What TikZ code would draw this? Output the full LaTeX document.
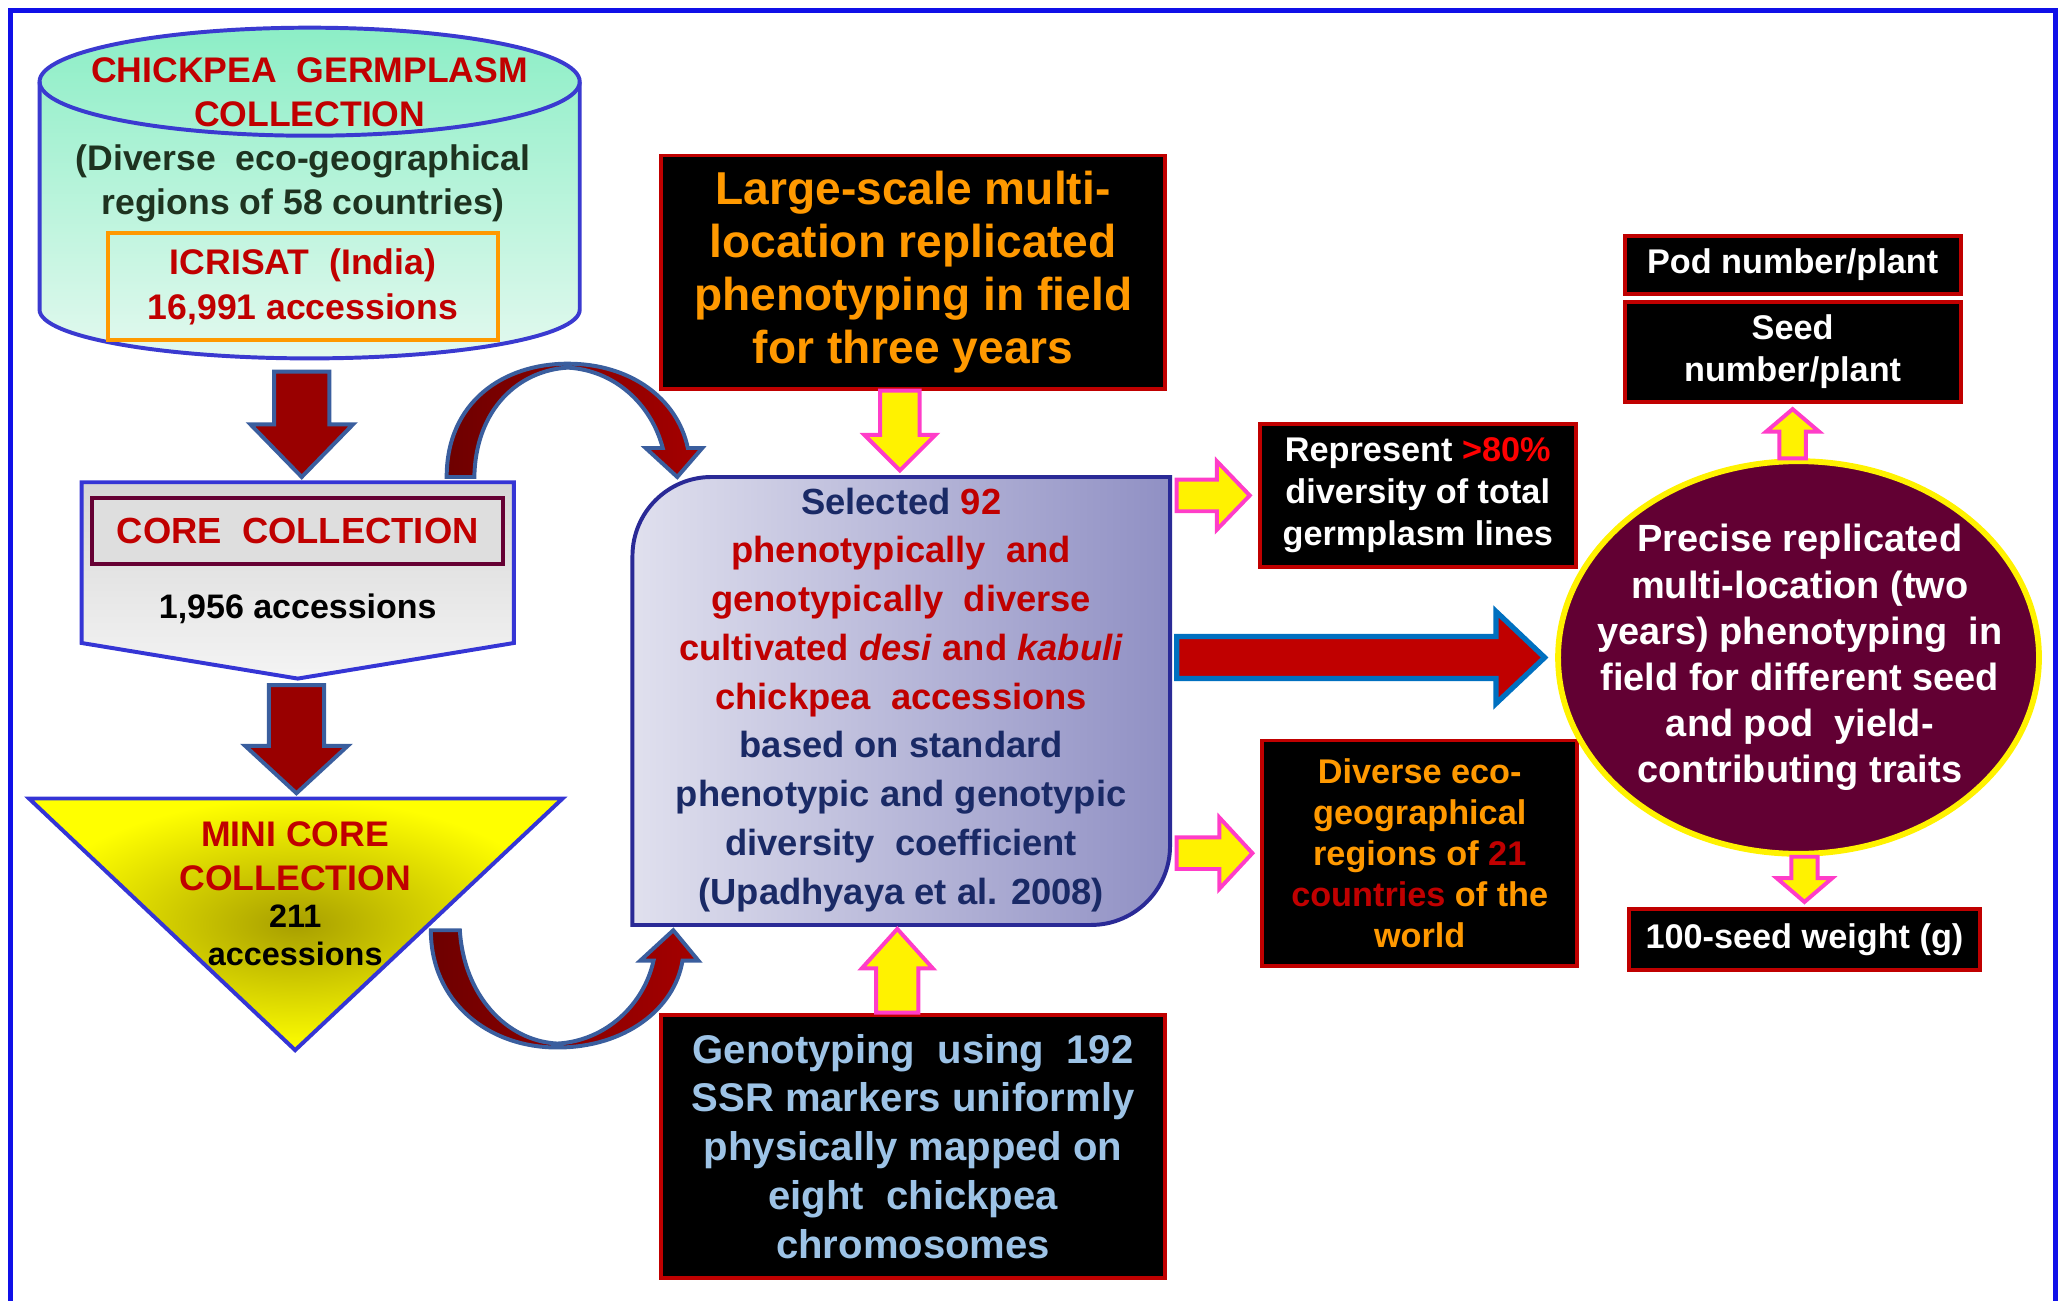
\documentclass[tikz,border=0pt]{standalone}
\usepackage{fontspec}
\setmainfont{Liberation Sans}
\usetikzlibrary{calc, shapes.geometric}

\definecolor{framecol}{HTML}{1010E8}
\definecolor{cylblue}{HTML}{3A3AD0}
\definecolor{cyltop}{HTML}{8CEEC6}
\definecolor{cylbot}{HTML}{E3F9EF}
\definecolor{textred}{HTML}{C00000}
\definecolor{greentext}{HTML}{1E3320}
\definecolor{icriorange}{HTML}{FF9900}
\definecolor{arrowred}{HTML}{990000}
\definecolor{arrowedge}{HTML}{3A5E9E}
\definecolor{curvedark}{HTML}{6E0000}
\definecolor{curvelight}{HTML}{A50000}
\definecolor{coregrayA}{HTML}{D6D6D6}
\definecolor{coregrayB}{HTML}{F4F4F4}
\definecolor{coreblue}{HTML}{3535D5}
\definecolor{coremaroon}{HTML}{660033}
\definecolor{coreinner}{HTML}{DEDEDE}
\definecolor{minicenter}{HTML}{A89F00}
\definecolor{selleft}{HTML}{E0E0EE}
\definecolor{selright}{HTML}{9090C4}
\definecolor{selblue}{HTML}{2A2A96}
\definecolor{navytext}{HTML}{1A2A66}
\definecolor{arrowpink}{HTML}{FF3DC8}
\definecolor{boxred}{HTML}{C00000}
\definecolor{lightbluetext}{HTML}{9DC3E6}
\definecolor{bigedge}{HTML}{0070C0}
\definecolor{precfill}{HTML}{620033}
\definecolor{brightred}{HTML}{FF0000}

\newcommand{\setfs}[2]{\fontsize{#1}{#2}\selectfont\bfseries}

% block arrows: [style]{start}{tip}{half shaft}{half head}{head length}
\newcommand{\fatdown}[6][]{%
  \draw[#1] ($(#2 -| #3)+(-#4,0)$) -- ($(#3)+(-#4,-#6)$) -- ($(#3)+(-#5,-#6)$)
    -- (#3) -- ($(#3)+(#5,-#6)$) -- ($(#3)+(#4,-#6)$) -- ($(#2 -| #3)+(#4,0)$) -- cycle;}
\newcommand{\fatup}[6][]{%
  \draw[#1] ($(#2 -| #3)+(-#4,0)$) -- ($(#3)+(-#4,#6)$) -- ($(#3)+(-#5,#6)$)
    -- (#3) -- ($(#3)+(#5,#6)$) -- ($(#3)+(#4,#6)$) -- ($(#2 -| #3)+(#4,0)$) -- cycle;}
\newcommand{\fatright}[6][]{%
  \draw[#1] ($(#2 |- #3)+(0,-#4)$) -- ($(#3)+(-#6,-#4)$) -- ($(#3)+(-#6,-#5)$)
    -- (#3) -- ($(#3)+(-#6,#5)$) -- ($(#3)+(-#6,#4)$) -- ($(#2 |- #3)+(0,#4)$) -- cycle;}

\tikzset{
  darkbox/.style={draw=boxred, fill=black, line width=1.5pt, inner sep=0pt, align=center},
  yellowarrow/.style={fill=yellow, draw=arrowpink, line width=1.5pt},
  redarrow/.style={fill=arrowred, draw=arrowedge, line width=1.5pt},
  curvearrow/.style={left color=curvedark, right color=curvelight, draw=arrowedge, line width=1.5pt},
}

\begin{document}
\begin{tikzpicture}[x=0.5pt, y=-0.5pt]
  \useasboundingbox (0,0) rectangle (1568,987);
  \draw[framecol, line width=1.8pt] (8,8) rectangle (1560,1000);

  % germplasm cylinder
  \shadedraw[top color=cyltop, bottom color=cylbot, draw=cylblue, line width=1.5pt]
    (30,62) -- (30,235) arc[start angle=180, end angle=0, x radius=205, y radius=37]
    -- (440,62) arc[start angle=0, end angle=-180, x radius=205, y radius=41] -- cycle;
  \draw[cylblue, line width=1.5pt] (30,62) arc[start angle=180, end angle=0, x radius=205, y radius=41];
  \node[align=center, text=textred, font=\setfs{13.5}{16.75}] (germ) at (235,70) {CHICKPEA\ \ GERMPLASM\\COLLECTION};
  \node[align=center, text=greentext, font=\setfs{13.5}{16.75}] (regions) at (230,139) {(Diverse\ \ eco-geographical\\regions of 58 countries)};
  \node[draw=icriorange, line width=1.5pt, minimum width=148pt, minimum height=40.5pt, inner sep=0pt,
        align=center, text=textred, font=\setfs{13.5}{17}] (icri) at (230,217.5) {ICRISAT\ \ (India)\\16,991 accessions};

  % core collection
  \shadedraw[top color=coregrayA, bottom color=coregrayB, draw=coreblue, line width=1.5pt]
    (62,366) -- (390,366) -- (390,488) -- (226,515) -- (62,488) -- cycle;
  \node[draw=coremaroon, fill=coreinner, line width=1.5pt, minimum width=156pt, minimum height=25pt, inner sep=0pt,
        text=textred, font=\setfs{13.8}{16}] (corebox) at (226,403) {CORE\ \ COLLECTION};
  \node[font=\setfs{12.9}{15}] (core) at (226,462) {1,956 accessions};

  % mini core collection
  \shadedraw[inner color=minicenter, outer color=yellow, draw=coreblue, line width=1.5pt]
    (22,606) -- (427,606) -- (224,797) -- cycle;
  \node[align=center, text=textred, font=\setfs{13.5}{16.5}] (mini) at (224,650) {MINI CORE\\COLLECTION};
  \node[align=center, font=\setfs{12.3}{14.5}] (mininum) at (224,710) {211\\accessions};

  % curved arrows
  \shadedraw[curvearrow] (339,362) .. controls (339,305) and (382,276) .. (431,276)
    .. controls (478,276) and (514,302) .. (522,340) -- (533,340) -- (514,362) -- (490,340) -- (503,340)
    .. controls (494,306) and (466,281) .. (431,279) .. controls (394,281) and (361,310) .. (360,362) -- cycle;
  \shadedraw[curvearrow] (327,706) .. controls (327,760) and (370,795) .. (423,795)
    .. controls (474,795) and (512,766) .. (518,729) -- (530,729) -- (511,706) -- (486,729) -- (496,729)
    .. controls (489,762) and (460,790) .. (423,792) .. controls (384,790) and (352,755) .. (349,706) -- cycle;

  % selected accessions
  \shadedraw[left color=selleft, right color=selright, draw=selblue, line width=1.5pt]
    (540,362) -- (888,362) -- (888,642) arc[start angle=0, end angle=90, radius=60]
    -- (480,702) -- (480,422) arc[start angle=180, end angle=270, radius=60] -- cycle;
  \node[align=center, text=navytext, font=\setfs{13.8}{18.5}] (sel) at (684,531)
    {Selected \textcolor{textred}{92}\\
     \textcolor{textred}{phenotypically\ \ and}\\
     \textcolor{textred}{genotypically\ \ diverse}\\
     \textcolor{textred}{cultivated \textit{desi} and \textit{kabuli}}\\
     \textcolor{textred}{chickpea\ \ accessions}\\
     based on standard\\
     phenotypic and genotypic\\
     diversity\ \ coefficient\\
     (Upadhyaya et al. 2008)};

  % black boxes
  \node[darkbox, minimum width=191pt, minimum height=88.5pt, text=icriorange, font=\setfs{17.5}{20}] (phen) at (693,206.5)
    {Large-scale multi-\\location replicated\\phenotyping in field\\for three years};
  \node[darkbox, minimum width=191pt, minimum height=100pt, text=lightbluetext, font=\setfs{15.2}{18.5}] (geno) at (693,870)
    {Genotyping\ \ using\ \ 192\\SSR markers uniformly\\physically mapped on\\eight\ \ chickpea\\chromosomes};
  \node[darkbox, minimum width=120pt, minimum height=54pt, text=white, font=\setfs{13}{16}] (rep) at (1076,376)
    {Represent \textcolor{brightred}{>80\%}\\diversity of total\\germplasm lines};
  \node[darkbox, minimum width=119.5pt, minimum height=85.5pt, text=icriorange, font=\setfs{13}{15.5}] (div) at (1077.5,647.5)
    {Diverse eco-\\geographical\\regions of \textcolor{textred}{21}\\\textcolor{textred}{countries} of the\\world};
  \node[darkbox, minimum width=127.5pt, minimum height=22pt, text=white, font=\setfs{13}{16}] (pod) at (1360.5,201) {Pod number/plant};
  \node[darkbox, minimum width=127.5pt, minimum height=38pt, text=white, font=\setfs{13}{16}] (seed) at (1360.5,267) {Seed\\number/plant};
  \node[darkbox, minimum width=133.5pt, minimum height=23pt, text=white, font=\setfs{13}{16}] (wt) at (1369.5,713) {100-seed weight (g)};

  % replicated phenotyping
  \node[ellipse, draw=yellow, fill=precfill, line width=2.2pt, minimum width=182.5pt, minimum height=149pt, inner sep=0pt] (prec) at (1365,499) {};
  \node[align=center, text=white, font=\setfs{14.4}{17.5}] (prectext) at (1366,499)
    {Precise replicated\\multi-location (two\\years) phenotyping\ \ in\\field for different seed\\and pod\ \ yield-\\contributing traits};

  % arrow end points
  \coordinate (cylB) at (229,282);
  \coordinate (coreT) at (229,362);
  \coordinate (coreB) at (225,520);
  \coordinate (miniT) at (225,602);
  \coordinate (selN) at (683,357);
  \coordinate (selS) at (681,705);
  \coordinate (selEa) at (893,376);
  \coordinate (selEb) at (893,497);
  \coordinate (selEc) at (893,647);
  \coordinate (repW) at ([xshift=-3pt]rep.west);
  \coordinate (divW) at ([xshift=-3pt]div.west);
  \coordinate (precW) at ([xshift=-4pt]prec.west);
  \coordinate (seedS) at ([yshift=-2pt]seed.south);
  \coordinate (wtN) at ([yshift=2pt]wt.north);

  \fatdown[redarrow]{cylB}{coreT}{21}{39}{40};
  \fatdown[redarrow]{coreB}{miniT}{21}{39}{36};
  \fatdown[yellowarrow]{phen.south}{selN}{15}{27}{27};
  \fatup[yellowarrow]{geno.north}{selS}{16}{27}{30};
  \fatright[yellowarrow]{selEa}{repW}{12}{26}{25};
  \fatright[yellowarrow]{selEc}{divW}{12}{27}{25};
  \fatright[fill=textred, draw=bigedge, line width=2pt]{selEb}{precW}{16}{35}{37};
  \fatup[yellowarrow]{prec.north}{seedS}{10}{20}{17};
  \fatdown[yellowarrow]{prec.south}{wtN}{10}{21}{18};
\end{tikzpicture}
\end{document}
